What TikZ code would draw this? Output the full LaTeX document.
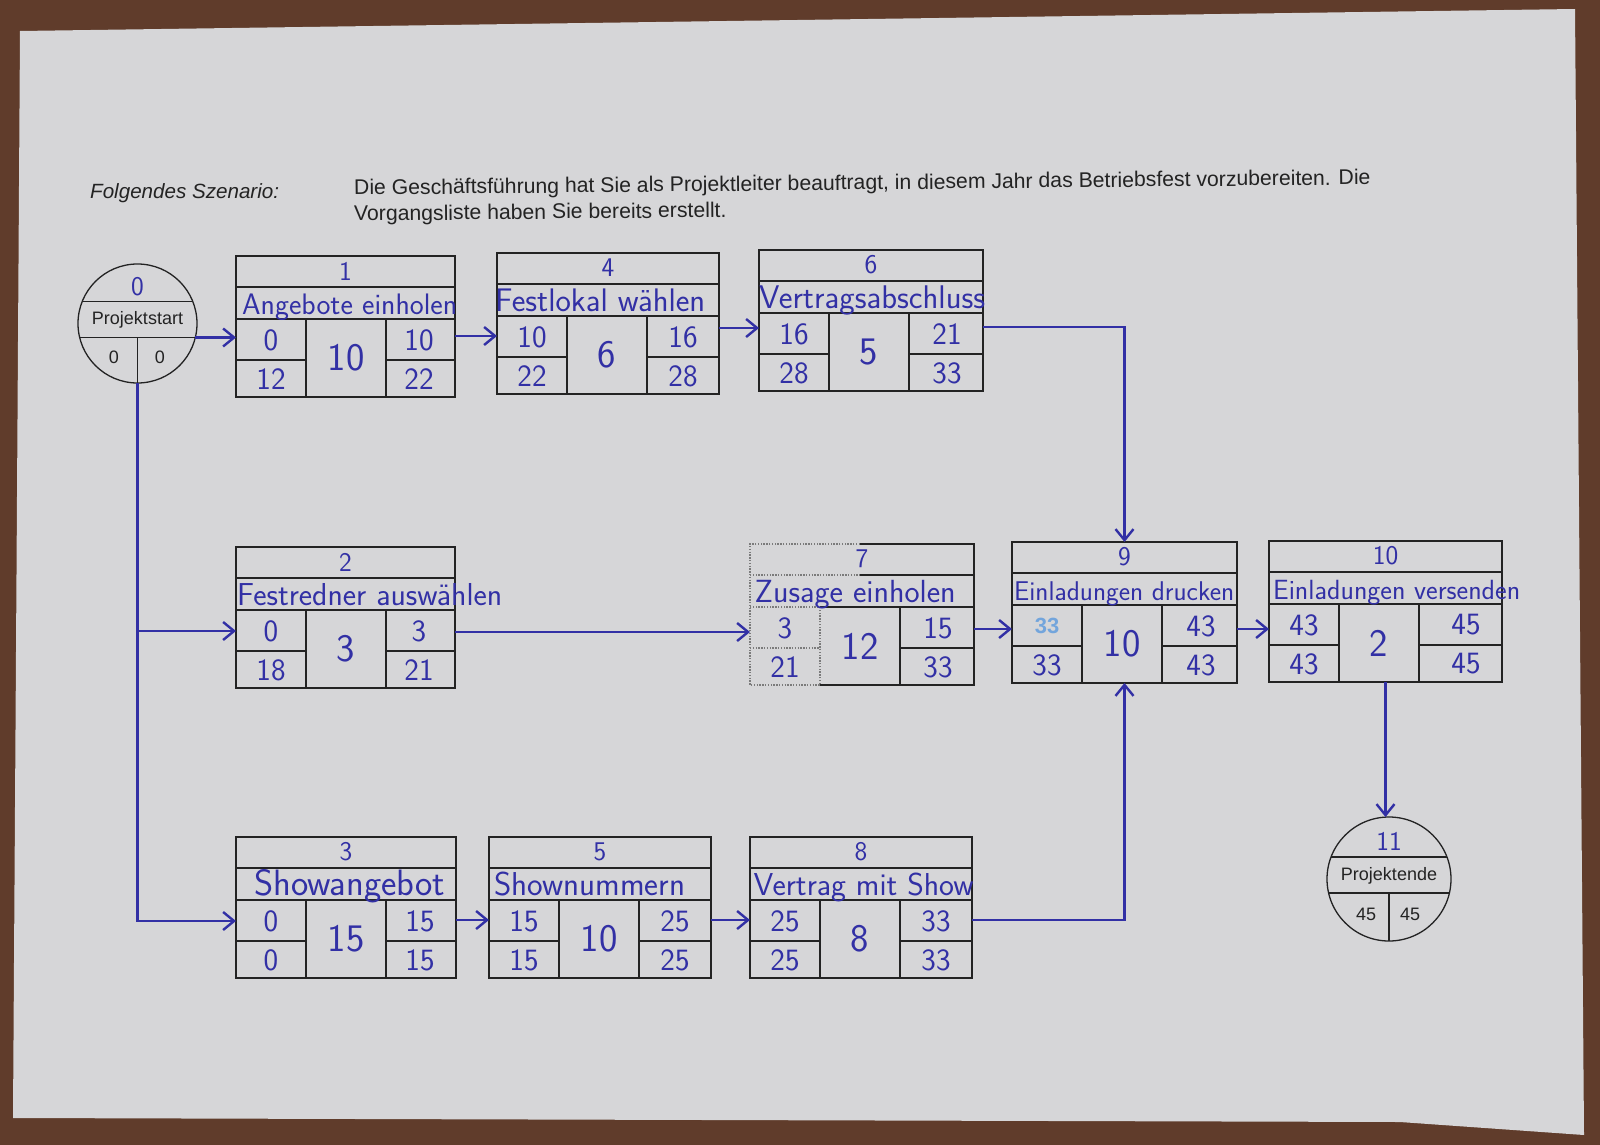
\documentclass[tikz,border=0pt]{standalone}
\usepackage{fontspec}
\setmainfont{Liberation Sans}
\usepackage{graphicx}
\usetikzlibrary{arrows.meta,calc}

\definecolor{ink}{RGB}{50,48,165}
\definecolor{lightink}{RGB}{115,165,220}
\definecolor{paper}{RGB}{214,214,216}
\definecolor{wood}{RGB}{96,60,43}
\definecolor{rule}{RGB}{35,35,35}

% activity box: name, left, top, width
\newcommand{\taskbox}[4]{%
  \node[taskframe, minimum width=#4pt] (#1) at (#2,#3) {};
  \draw[rulegrid] ([yshift=-31pt]#1.north west) -- ([yshift=-31pt]#1.north east);
  \draw[rulegrid] ([yshift=-63pt]#1.north west) -- ([yshift=-63pt]#1.north east);
  \draw[rulegrid] ([shift={(70pt,-63pt)}]#1.north west) -- ([xshift=70pt]#1.south west);
  \draw[rulegrid] ([shift={(150pt,-63pt)}]#1.north west) -- ([xshift=150pt]#1.south west);
  \draw[rulegrid] ([yshift=-104pt]#1.north west) -- ([shift={(70pt,-104pt)}]#1.north west);
  \draw[rulegrid] ([shift={(150pt,-104pt)}]#1.north west) -- ([yshift=-104pt]#1.north east);
}
% number and title: name, number, title, x offset, title width
\newcommand{\taskhead}[5]{%
  \node[idnum] (#1-id) at ([yshift=-15pt]#1.north) {#2};
  \node[taskname] (#1-name) at ([shift={(#4pt,-58pt)}]#1.north west)
    {\resizebox{#5pt}{!}{\sffamily\fontsize{24}{24}\selectfont #3}};
}
% times: name, ES, LS, duration, EF, LF
\newcommand{\taskvals}[6]{%
  \node[valtext] (#1-es) at ([shift={(35pt,-84pt)}]#1.north west) {#2};
  \node[valtext] (#1-ls) at ([shift={(35pt,-123pt)}]#1.north west) {#3};
  \node[dur] (#1-d) at ([shift={(110pt,-102pt)}]#1.north west) {#4};
  \node[valtext] (#1-ef) at ([shift={(-36pt,-84pt)}]#1.north east) {#5};
  \node[valtext] (#1-lf) at ([shift={(-36pt,-123pt)}]#1.north east) {#6};
}

\begin{document}
\begin{tikzpicture}[x=1pt,y=-1pt,
  taskframe/.style={rectangle, draw=rule, line width=1.3pt, inner sep=0pt, outer sep=0pt,
    minimum height=141pt, anchor=north west},
  rulegrid/.style={draw=rule, line width=1.3pt},
  faintrule/.style={draw=rule!60, line width=1.2pt, dash pattern=on 1.4pt off 1.4pt},
  ring/.style={circle, draw=rule, line width=1.3pt, inner sep=0pt, outer sep=0pt},
  link/.style={draw=ink, line width=2.4pt, -{Straight Barb[length=11pt,width=18pt]}},
  valtext/.style={text=ink, inner sep=0pt, font=\sffamily\fontsize{31}{31}\selectfont},
  dur/.style={valtext, font=\sffamily\fontsize{39}{39}\selectfont},
  idnum/.style={valtext, font=\sffamily\fontsize{27}{27}\selectfont},
  taskname/.style={text=ink, inner sep=0pt, anchor=base west},
  printtxt/.style={text=rule, inner sep=0pt, font=\fontsize{18}{22}\selectfont},
  headtxt/.style={text=rule, inner sep=0pt, anchor=base west, font=\fontsize{21.2}{25}\selectfont},
]
\useasboundingbox (0,0) rectangle (1600,1145);
\fill[wood] (0,0) rectangle (1600,1145);
\fill[paper] (20,31) -- (1575,9) -- (1584,1135) -- (1400,1122) -- (13,1118) -- cycle;

% header text
\node[headtxt, font=\itshape\fontsize{20.6}{25}\selectfont] (scen) at (90,198) {Folgendes Szenario:};
\node[headtxt, rotate=0.59] (line1) at (354,195)
  {Die Geschäftsführung hat Sie als Projektleiter beauftragt, in diesem Jahr das Betriebsfest vorzubereiten. Die};
\node[headtxt, rotate=0.59] (line2) at (354,221) {Vorgangsliste haben Sie bereits erstellt.};

% start event
\node[ring, minimum size=119pt] (c0) at (137.5,323.5) {};
\draw[rulegrid] ([shift={(158.3:59.5pt)}]c0.center) -- ([shift={(21.7:59.5pt)}]c0.center);
\draw[rulegrid] ([shift={(193.6:59.5pt)}]c0.center) -- ([shift={(-13.6:59.5pt)}]c0.center);
\draw[rulegrid] ([yshift=-14pt]c0.center) -- (c0.south);
\node[idnum] (c0-id) at (137.5,287) {0};
\node[printtxt] (c0-name) at (137.5,320) {Projektstart};
\node[printtxt] (c0-es) at (114,357) {0};
\node[printtxt] (c0-ef) at (160,357) {0};

% end event
\node[ring, minimum size=124pt] (c11) at (1389,879) {};
\draw[rulegrid] ([shift={(159.2:62pt)}]c11.center) -- ([shift={(20.8:62pt)}]c11.center);
\draw[rulegrid] ([shift={(193.05:62pt)}]c11.center) -- ([shift={(-13.05:62pt)}]c11.center);
\draw[rulegrid] ([yshift=-14pt]c11.center) -- (c11.south);
\node[idnum] (c11-id) at (1389,841) {11};
\node[printtxt] (c11-name) at (1389,876) {Projektende};
\node[printtxt] (c11-es) at (1366,914) {45};
\node[printtxt] (c11-ef) at (1410,914) {45};

% activities
\taskbox{b1}{236}{256}{219}
\taskhead{b1}{1}{Angebote einholen}{6}{215}
\taskvals{b1}{0}{12}{10}{10}{22}

\taskbox{b4}{497}{253}{222}
\taskhead{b4}{4}{Festlokal wählen}{-2}{210}
\taskvals{b4}{10}{22}{6}{16}{28}

\taskbox{b6}{759}{250}{224}
\taskhead{b6}{6}{Vertragsabschluss}{0}{226}
\taskvals{b6}{16}{28}{5}{21}{33}

\taskbox{b2}{236}{547}{219}
\taskhead{b2}{2}{Festredner auswählen}{1}{265}
\taskvals{b2}{0}{18}{3}{3}{21}

% activity 7, left part ruled faintly
\node[taskframe, draw=none, minimum width=224pt] (b7) at (750,544) {};
\draw[rulegrid] ([xshift=110pt]b7.north west) -- (b7.north east) -- (b7.south east) -- ([xshift=70pt]b7.south west);
\draw[rulegrid] ([shift={(110pt,-31pt)}]b7.north west) -- ([yshift=-31pt]b7.north east);
\draw[rulegrid] ([shift={(70pt,-63pt)}]b7.north west) -- ([yshift=-63pt]b7.north east);
\draw[rulegrid] ([shift={(150pt,-63pt)}]b7.north west) -- ([xshift=150pt]b7.south west);
\draw[rulegrid] ([shift={(150pt,-104pt)}]b7.north west) -- ([yshift=-104pt]b7.north east);
\draw[faintrule] ([xshift=110pt]b7.north west) -- (b7.north west) -- (b7.south west) -- ([xshift=70pt]b7.south west) -- ([shift={(70pt,-63pt)}]b7.north west) -- ([yshift=-63pt]b7.north west);
\draw[faintrule] ([yshift=-31pt]b7.north west) -- ([shift={(110pt,-31pt)}]b7.north west);
\draw[faintrule] ([yshift=-104pt]b7.north west) -- ([shift={(70pt,-104pt)}]b7.north west);
\taskhead{b7}{7}{Zusage einholen}{4.5}{201}
\taskvals{b7}{3}{21}{12}{15}{33}

\taskbox{b9}{1012}{542}{225}
\taskhead{b9}{9}{Einladungen drucken}{2}{220}
\taskvals{b9}{{\rmfamily\bfseries\fontsize{22}{22}\selectfont\color{lightink}33}}{33}{10}{43}{43}

\taskbox{b10}{1269}{541}{233}
\taskhead{b10}{10}{Einladungen versenden}{4}{247}
\taskvals{b10}{43}{43}{2}{45}{45}

\taskbox{b3}{236}{837}{220}
\taskhead{b3}{3}{Showangebot}{18}{191}
\taskvals{b3}{0}{0}{15}{15}{15}

\taskbox{b5}{489}{837}{222}
\taskhead{b5}{5}{Shownummern}{5}{191}
\taskvals{b5}{15}{15}{10}{25}{25}

\taskbox{b8}{750}{837}{222}
\taskhead{b8}{8}{Vertrag mit Show}{3.4}{220}
\taskvals{b8}{25}{25}{8}{33}{33}

% connection points
\coordinate (b1out) at ([yshift=-80pt]b1.north east);
\coordinate (b4out) at ([yshift=-75pt]b4.north east);
\coordinate (b6out) at ([yshift=-77pt]b6.north east);
\coordinate (b2in) at ([yshift=-84pt]b2.north west);
\coordinate (b2out) at ([yshift=-85pt]b2.north east);
\coordinate (b7out) at ([yshift=-85pt]b7.north east);
\coordinate (b9out) at ([yshift=-87pt]b9.north east);
\coordinate (b3in) at ([yshift=-84pt]b3.north west);
\coordinate (b3out) at ([yshift=-83pt]b3.north east);
\coordinate (b5out) at ([yshift=-83pt]b5.north east);
\coordinate (b8out) at ([yshift=-83pt]b8.north east);
\coordinate (c0out) at ([shift={(-13.6:59.5pt)}]c0.center);

% dependencies
\draw[link] (c0out) -- (c0out -| b1.west);
\draw[link] (b1out) -- (b1out -| b4.west);
\draw[link] (b4out) -- (b4out -| b6.west);
\draw[link] (b6out) -| (b9.north);
\draw[link] (c0.south) |- (b3in);
\draw[link] (c0.south |- b2in) -- (b2in);
\draw[link] (b2out) -- (b2out -| b7.west);
\draw[link] (b7out) -- (b7out -| b9.west);
\draw[link] (b9out) -- (b9out -| b10.west);
\draw[link] (b3out) -- (b3out -| b5.west);
\draw[link] (b5out) -- (b5out -| b8.west);
\draw[link] (b8out) -| (b9.south);
\draw[link] (b10.south) -- (b10.south |- c11.north);
\end{tikzpicture}
\end{document}
